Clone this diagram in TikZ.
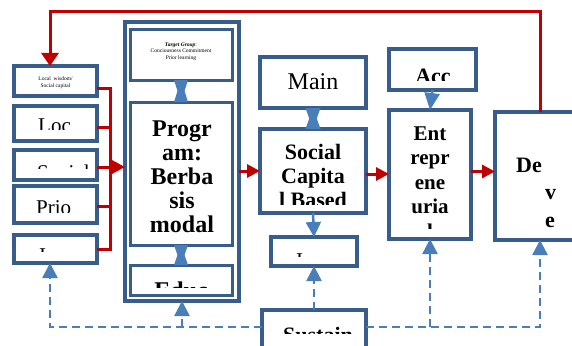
\documentclass[tikz,border=0pt]{standalone}
\usepackage{fontspec}
\setmainfont{Liberation Serif}
\usetikzlibrary{arrows.meta}
\definecolor{boxblue}{HTML}{385D8A}
\definecolor{arrblue}{HTML}{4A7EBB}
\definecolor{arrred}{HTML}{C00000}
\begin{document}
\begin{tikzpicture}[x=1pt,y=-1pt,
  box/.style={draw=boxblue, fill=white, line width=3.5pt, inner sep=0pt, outer sep=0pt, anchor=north west},
  smalltxt/.style={font=\fontsize{5.5}{7}\selectfont, align=center, inner sep=0pt},
  bigtxt/.style={font=\fontsize{21}{24}\selectfont, inner sep=0pt, anchor=base west},
  heavy/.style={font=\fontsize{22}{24}\selectfont\bfseries, inner sep=0pt, align=center, anchor=base},
  redline/.style={draw=arrred, line width=3pt},
  redtip/.style={-{Triangle[length=13pt,width=13pt]}},
  dashline/.style={draw=arrblue, line width=2.5pt, dash pattern=on 8pt off 5pt},
  bluetip/.style={-{Triangle[length=15pt,width=15pt]}}]

\useasboundingbox (0,0) rectangle (572,345);

% left column
\node[box, minimum width=83pt, minimum height=30pt] (wis) at (14,66) {};
\node[box, minimum width=83pt, minimum height=35pt] (loc) at (14,106) {};
\node[box, minimum width=83pt, minimum height=30pt] (soc) at (14,150) {};
\node[box, minimum width=83pt, minimum height=37pt] (pri) at (14,186) {};
\node[box, minimum width=83pt, minimum height=28pt] (inp) at (14,235) {};

\node[smalltxt] at (55.5,83) {Local\ \ wisdom/\\Social capital};
\begin{scope}
  \clip (14,106) rectangle (97,129.5);
  \node[bigtxt] at (38,132) {Loc};
\end{scope}
\begin{scope}
  \clip (14,150) rectangle (97,168);
  \node[bigtxt] at (37,179) {Social};
\end{scope}
\begin{scope}
  \clip (14,186) rectangle (97,212.5);
  \node[bigtxt] at (36,214) {Prio};
\end{scope}
\begin{scope}
  \clip (14,235) rectangle (97,251);
  \node[bigtxt] at (39,262) {I};
\end{scope}

% program column
\node[box, line width=4pt, minimum width=114pt, minimum height=279pt] (progbox) at (125,22) {};
\node[box, line width=3pt, minimum width=102pt, minimum height=50pt] (tg) at (130,30) {};
\node[box, line width=3pt, minimum width=102pt, minimum height=143pt] (prog) at (130,102) {};
\node[box, line width=3pt, minimum width=102pt, minimum height=30pt] (edu) at (130,265) {};

\node[smalltxt, font=\fontsize{5.5}{6.5}\selectfont, anchor=base] at (181,59.5) {\textbf{\textit{Target Group}}:\\Conciousness Commitment\\Prior learning};
\node[heavy, font=\fontsize{24}{24}\selectfont\bfseries] at (182,232) {Progr\\am:\\Berba\\sis\\modal};
\begin{scope}
  \clip (130,265) rectangle (232,287);
  \node[heavy, font=\fontsize{24}{24}\selectfont\bfseries] at (181,298) {Educ};
\end{scope}

% middle column
\node[box, minimum width=106pt, minimum height=51pt] (main) at (260,57) {};
\node[box, minimum width=106pt, minimum height=84pt] (soccap) at (260,129) {};
\node[box, minimum width=86pt, minimum height=29pt] (imp) at (271,237) {};
\node[box, minimum width=104pt, minimum height=40pt] (sus) at (262,310) {};

\node[bigtxt, font=\fontsize{24}{24}\selectfont, anchor=base] at (313,89) {Main};
\begin{scope}
  \clip (260,129) rectangle (366,204);
  \node[heavy] at (313,207) {Social\\Capita\\l Based};
\end{scope}
\begin{scope}
  \clip (271,237) rectangle (357,256);
  \node[bigtxt] at (296,267) {I};
\end{scope}
\begin{scope}
  \clip (262,310) rectangle (366,333);
  \node[heavy, anchor=base west] at (283,342) {Sustain};
\end{scope}

% right columns
\node[box, minimum width=87pt, minimum height=41pt] (acc) at (389,49) {};
\node[box, minimum width=82pt, minimum height=129pt] (ent) at (389,110) {};
\node[box, minimum width=110pt, minimum height=128pt] (dev) at (495,112) {};

\begin{scope}
  \clip (389,49) rectangle (476,80);
  \node[heavy] at (433,83) {Acc};
\end{scope}
\begin{scope}
  \clip (389,110) rectangle (471,228);
  \node[heavy, font=\fontsize{21}{24.5}\selectfont\bfseries] at (430,238) {Ent\\repr\\ene\\uria\\l};
\end{scope}
\node[heavy, font=\fontsize{22}{27.5}\selectfont\bfseries, align=left, anchor=base west] at (516,227) {De\\\hspace*{29pt}v\\\hspace*{29pt}e};

% blue links between boxes
\fill[arrblue] ([xshift=-7pt]tg.south) -- ([xshift=7pt]tg.south) -- (prog.north) -- cycle;
\fill[arrblue] ([xshift=-7pt]prog.north) -- ([xshift=7pt]prog.north) -- (tg.south) -- cycle;
\fill[arrblue] ([xshift=-7pt]prog.south) -- ([xshift=7pt]prog.south) -- (edu.north) -- cycle;
\fill[arrblue] ([xshift=-7pt]edu.north) -- ([xshift=7pt]edu.north) -- (prog.south) -- cycle;
\fill[arrblue] ([xshift=-7.5pt]main.south) -- ([xshift=7.5pt]main.south) -- (soccap.north) -- cycle;
\fill[arrblue] ([xshift=-7.5pt]soccap.north) -- ([xshift=7.5pt]soccap.north) -- (main.south) -- cycle;
\draw[draw=arrblue, line width=2.5pt, -{Triangle[length=17pt,width=15pt]}] (acc.south) -- (ent.north);
\draw[draw=arrblue, line width=2.5pt, bluetip] (soccap.south) -- (imp.north);

% red bracket and arrows
\coordinate (spinetop) at (110,88);
\coordinate (spinebot) at (110,249);
\draw[redline] (wis.east |- spinetop) -- (spinetop) -- (spinebot) -- (inp.east |- spinebot);
\draw[redline] ([yshift=-4pt]loc.east) -- ([yshift=-4pt]loc.east -| spinetop);
\draw[redline] ([yshift=-1.5pt]pri.east) -- ([yshift=-1.5pt]pri.east -| spinetop);
\draw[redline, redtip] ([yshift=-2pt]soc.east) -- ([yshift=-2pt]soc.east -| progbox.west);
\draw[redline, redtip] (progbox.east |- soccap.west) -- (soccap.west);
\draw[redline, redtip] ([yshift=-3pt]soccap.east) -- ([yshift=-3pt]soccap.east -| ent.west);
\draw[redline, redtip] ([yshift=3pt]ent.east) -- ([yshift=3pt]ent.east -| dev.west);

\coordinate (loopr) at (540,12);
\coordinate (loopl) at (50,12);
\draw[redline, -{Triangle[length=13pt,width=17pt]}] (loopr |- dev.north) -- (loopr) -- (loopl) -- (loopl |- wis.north);

% dashed feedback
\coordinate (dl) at (50,327);
\coordinate (dr) at (540,327);
\draw[dashline, bluetip] (sus.north) -- (sus.north |- imp.south);
\draw[dashline, bluetip] (sus.west |- dl) -- (dl) -- (dl |- inp.south);
\draw[dashline, bluetip] (progbox.south |- dl) -- (progbox.south);
\draw[dashline, bluetip] (sus.east |- dr) -- (dr) -- (dr |- dev.south);
\draw[dashline, bluetip] (ent.south |- dr) -- (ent.south);

\end{tikzpicture}
\end{document}
